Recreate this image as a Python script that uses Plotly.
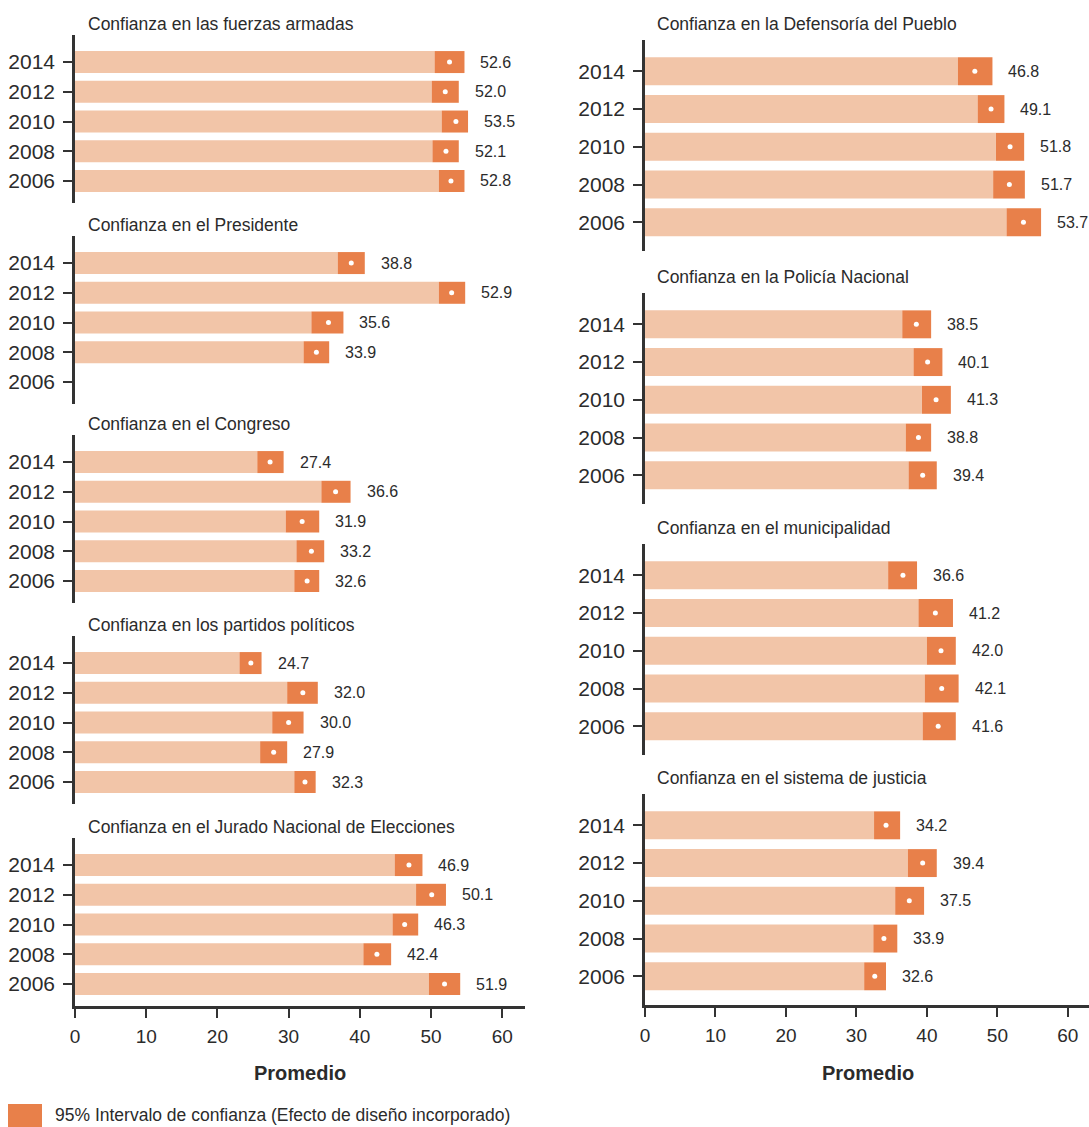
import plotly.graph_objects as go

# ---------------- data ----------------
years = ["2014", "2012", "2010", "2008", "2006"]
year_order = ["2006", "2008", "2010", "2012", "2014"]

fuerzas_title = "Confianza en las fuerzas armadas"
fuerzas_mean = [52.6, 52.0, 53.5, 52.1, 52.8]
fuerzas_low = [50.5, 50.1, 51.5, 50.2, 51.1]
fuerzas_high = [54.7, 53.9, 55.2, 53.9, 54.7]

presidente_title = "Confianza en el Presidente"
presidente_mean = [38.8, 52.9, 35.6, 33.9, None]
presidente_low = [36.9, 51.1, 33.2, 32.1, None]
presidente_high = [40.7, 54.8, 37.7, 35.7, None]

congreso_title = "Confianza en el Congreso"
congreso_mean = [27.4, 36.6, 31.9, 33.2, 32.6]
congreso_low = [25.6, 34.6, 29.6, 31.1, 30.8]
congreso_high = [29.3, 38.7, 34.3, 35.0, 34.3]

partidos_title = "Confianza en los partidos políticos"
partidos_mean = [24.7, 32.0, 30.0, 27.9, 32.3]
partidos_low = [23.1, 29.8, 27.7, 26.0, 30.8]
partidos_high = [26.2, 34.1, 32.1, 29.8, 33.8]

jne_title = "Confianza en el Jurado Nacional de Elecciones"
jne_mean = [46.9, 50.1, 46.3, 42.4, 51.9]
jne_low = [44.9, 47.9, 44.6, 40.5, 49.7]
jne_high = [48.8, 52.1, 48.2, 44.4, 54.1]

defensoria_title = "Confianza en la Defensoría del Pueblo"
defensoria_mean = [46.8, 49.1, 51.8, 51.7, 53.7]
defensoria_low = [44.4, 47.2, 49.8, 49.4, 51.3]
defensoria_high = [49.3, 51.0, 53.8, 53.9, 56.2]

policia_title = "Confianza en la Policía Nacional"
policia_mean = [38.5, 40.1, 41.3, 38.8, 39.4]
policia_low = [36.5, 38.1, 39.3, 37.0, 37.4]
policia_high = [40.6, 42.2, 43.4, 40.6, 41.4]

muni_title = "Confianza en el municipalidad"
muni_mean = [36.6, 41.2, 42.0, 42.1, 41.6]
muni_low = [34.5, 38.8, 40.0, 39.7, 39.4]
muni_high = [38.6, 43.7, 44.1, 44.5, 44.1]

justicia_title = "Confianza en el sistema de justicia"
justicia_mean = [34.2, 39.4, 37.5, 33.9, 32.6]
justicia_low = [32.5, 37.3, 35.5, 32.4, 31.1]
justicia_high = [36.2, 41.4, 39.6, 35.8, 34.2]

x_ticks = [0, 10, 20, 30, 40, 50, 60]
x_title = "Promedio"
legend_text = "95% Intervalo de confianza (Efecto de diseño incorporado)"

# ---------------- style ----------------
W, H = 1089, 1127
LIGHT = "#F2C5A8"
DARK = "#E8804A"
TXT = "#2B2B2B"
AX = "#333333"
NARROW = "Liberation Sans Narrow, Arial Narrow, Liberation Sans, Arial, sans-serif"
REG = "Liberation Sans, Arial, sans-serif"


def px_x(p):
    return p / W


def px_y(p):
    return 1 - p / H


left_panels = [
    (fuerzas_title, fuerzas_mean, fuerzas_low, fuerzas_high),
    (presidente_title, presidente_mean, presidente_low, presidente_high),
    (congreso_title, congreso_mean, congreso_low, congreso_high),
    (partidos_title, partidos_mean, partidos_low, partidos_high),
    (jne_title, jne_mean, jne_low, jne_high),
]
right_panels = [
    (defensoria_title, defensoria_mean, defensoria_low, defensoria_high),
    (policia_title, policia_mean, policia_low, policia_high),
    (muni_title, muni_mean, muni_low, muni_high),
    (justicia_title, justicia_mean, justicia_low, justicia_high),
]

# layout geometry (pixels)
columns = [
    dict(panels=left_panels, tops=[35, 236, 435, 636, 838], height=168,
         x0=75, x1=525, xmax=63.2, yrange=[-0.74, 4.91], title_x=86,
         title_gap=11, ysize=21, barw=0.74, promedio_x=300),
    dict(panels=right_panels, tops=[40, 293, 544, 794], height=211,
         x0=645, x1=1089, xmax=63.0, yrange=[-0.76, 4.83], title_x=655,
         title_gap=16, ysize=21, barw=0.74, promedio_x=868),
]

fig = go.Figure()
layout = {}
annotations = []
idx = 0
for col in columns:
    n = len(col["panels"])
    for i, (title, mean, low, high) in enumerate(col["panels"]):
        idx += 1
        xa = "x" if idx == 1 else f"x{idx}"
        ya = "y" if idx == 1 else f"y{idx}"
        top = col["tops"][i]
        bottom = top + col["height"]
        is_bottom = i == n - 1

        width_ci = [None if h is None else round(h - l, 2) for l, h in zip(low, high)]
        fig.add_trace(go.Bar(x=low, y=years, orientation="h", marker_color=LIGHT,
                             marker_line_width=0,
                             width=col["barw"], xaxis=xa, yaxis=ya, showlegend=False,
                             hoverinfo="skip"))
        fig.add_trace(go.Bar(x=width_ci, base=low, y=years, orientation="h",
                             marker_color=DARK, marker_line_width=0,
                             width=col["barw"], xaxis=xa, yaxis=ya,
                             showlegend=False, hoverinfo="skip"))
        fig.add_trace(go.Scatter(x=mean, y=years, mode="markers",
                                 marker=dict(color="white", size=5),
                                 xaxis=xa, yaxis=ya, showlegend=False, hoverinfo="skip"))
        for yr, m, h in zip(years, mean, high):
            if m is None:
                continue
            annotations.append(dict(x=h, y=year_order.index(yr), xref=xa, yref=ya,
                                    text=f"{m:.1f}",
                                    showarrow=False, xanchor="left", yanchor="middle",
                                    xshift=14,
                                    font=dict(family=NARROW, size=16, color=TXT)))
        # panel title
        annotations.append(dict(x=px_x(col["title_x"]), y=px_y(top - col["title_gap"]),
                                xref="paper", yref="paper", text=title, showarrow=False,
                                xanchor="left", yanchor="middle",
                                font=dict(family=REG, size=17.5, color=TXT)))

        xkey = "xaxis" if idx == 1 else f"xaxis{idx}"
        ykey = "yaxis" if idx == 1 else f"yaxis{idx}"
        layout[xkey] = dict(
            domain=[px_x(col["x0"]), px_x(col["x1"])], anchor=ya, automargin=False,
            range=[0, col["xmax"]], showgrid=False, zeroline=False,
            showline=is_bottom, linecolor=AX, linewidth=2.5,
            ticks="outside" if is_bottom else "", ticklen=9, tickwidth=1.5,
            tickcolor=AX, tickvals=x_ticks, showticklabels=is_bottom,
            ticklabelstandoff=2,
            tickfont=dict(family=NARROW, size=19, color=TXT), fixedrange=True,
        )
        layout[ykey] = dict(
            domain=[px_y(bottom), px_y(top)], anchor=xa, type="category",
            automargin=False,
            categoryorder="array", categoryarray=year_order, range=col["yrange"],
            showgrid=False, zeroline=False, showline=True, linecolor=AX,
            linewidth=2.5, ticks="outside", ticklen=9, tickwidth=1.5, tickcolor=AX,
            ticklabelstandoff=4,
            tickfont=dict(family=NARROW, size=col["ysize"], color=TXT), fixedrange=True,
        )
        if is_bottom:
            annotations.append(dict(x=px_x(col["promedio_x"]), y=px_y(1073),
                                    xref="paper", yref="paper", text=f"<b>{x_title}</b>",
                                    showarrow=False, xanchor="center", yanchor="middle",
                                    font=dict(family=REG, size=20, color=TXT)))

# legend (drawn manually)
annotations.append(dict(x=px_x(53), y=px_y(1115), xref="paper", yref="paper",
                        text=legend_text, showarrow=False, xanchor="left",
                        yanchor="middle", font=dict(family=NARROW, size=17.5, color=TXT)))
shapes = [dict(type="rect", xref="paper", yref="paper", x0=px_x(8), x1=px_x(42),
               y0=px_y(1127), y1=px_y(1104), fillcolor=DARK, line=dict(width=0))]

fig.update_layout(
    width=W, height=H, margin=dict(l=0, r=0, t=0, b=0, autoexpand=False),
    plot_bgcolor="white", paper_bgcolor="white", barmode="overlay",
    annotations=annotations, shapes=shapes, **layout,
)

fig.write_html("out.html", post_script="document.body.style.margin='0';",
               config={"displayModeBar": False})
